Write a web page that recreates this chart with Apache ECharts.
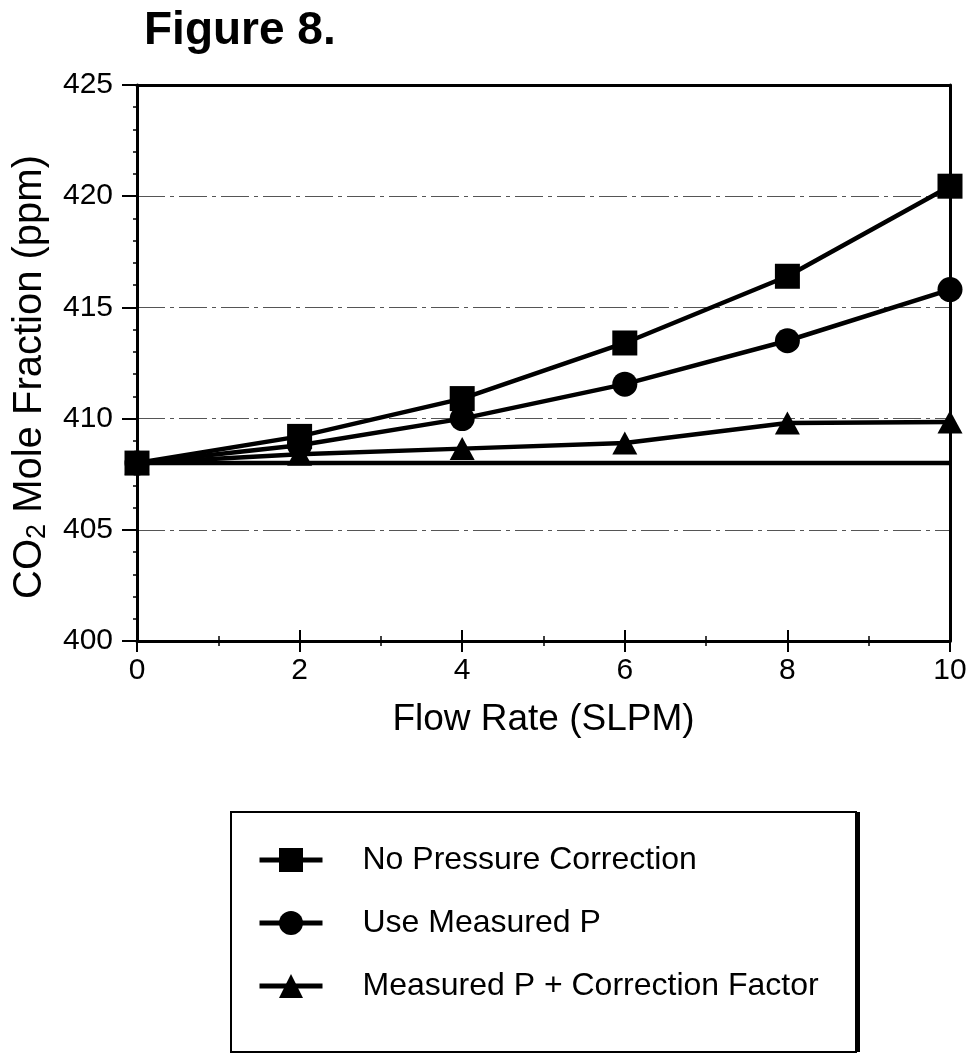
<!DOCTYPE html>
<html>
<head>
<meta charset="utf-8">
<script src="https://cdn.jsdelivr.net/npm/echarts@6/dist/echarts.min.js"></script>
<style>html,body{margin:0;padding:0;background:#fff}#c{width:972px;height:1055px}</style>
</head>
<body>
<div id="c"></div>
<script>
// Data
const flowRate = [0, 2, 4, 6, 8, 10];
const noPressureCorrection = [408.0, 409.2, 410.9, 413.4, 416.4, 420.45];
const useMeasuredP = [408.0, 408.8, 410.0, 411.55, 413.5, 415.8];
const measuredPCorrectionFactor = [408.0, 408.4, 408.65, 408.9, 409.8, 409.85];
const referenceLine = [408.0, 408.0, 408.0, 408.0, 408.0, 408.0];
const legendNames = ['No Pressure Correction', 'Use Measured P', 'Measured P + Correction Factor'];

const FONT = '"Liberation Sans", Arial, Helvetica, sans-serif';
const pairs = ys => flowRate.map((x, i) => [x, ys[i]]);

const chart = echarts.init(document.getElementById('c'), null, {renderer: 'canvas'});

function lineSeries(name, ys, symbol, z) {
  return {
    name: name, type: 'line', data: pairs(ys), z: z,
    symbol: symbol, symbolSize: symbol === 'triangle' ? [25, 23] : 25,
    showSymbol: symbol !== 'none',
    lineStyle: {color: '#000', width: 4.5},
    itemStyle: {color: '#000', borderWidth: 0},
    emphasis: {disabled: true},
    animation: false
  };
}

const xCommon = {type: 'value', min: 0, max: 10, interval: 2, gridIndex: 0};
const frameLine = {show: true, onZero: false, lineStyle: {color: '#000', width: 3}};

chart.setOption({
  backgroundColor: '#fff',
  animation: false,
  title: {
    text: 'Figure 8.', left: 139, top: 3,
    textStyle: {fontFamily: FONT, fontWeight: 'bold', fontSize: 46, color: '#000'}
  },
  grid: {left: 137, right: 22, top: 85, bottom: 414},
  graphic: [
    {type: 'rect', z: 0, silent: true,
     shape: {x: 231, y: 812, width: 625, height: 240},
     style: {fill: '#fff', stroke: '#000', lineWidth: 2}},
    {type: 'rect', z: 1, silent: true,
     shape: {x: 855, y: 812, width: 5, height: 240},
     style: {fill: '#000'}}
  ],
  legend: {
    orient: 'vertical', left: 230, top: 812,
    data: legendNames,
    itemWidth: 63, itemHeight: 30, itemGap: 29,
    padding: [31, 40, 50, 27],
    selectedMode: false,
    lineStyle: {width: 5, color: '#000'},
    itemStyle: {color: '#000'},
    textStyle: {fontFamily: FONT, fontSize: 32, color: '#000', lineHeight: 34, padding: [0, 0, 0, 35]}
  },
  xAxis: [
    Object.assign({}, xCommon, {
      name: 'Flow Rate (SLPM)', nameLocation: 'middle', nameGap: 60,
      nameTextStyle: {fontFamily: FONT, fontSize: 37, color: '#000'},
      axisLine: frameLine,
      axisTick: {show: true, inside: false, length: 11, lineStyle: {color: '#000', width: 2}},
      minorTick: {show: true, splitNumber: 2, length: 5, lineStyle: {color: '#000', width: 1.5}},
      axisLabel: {fontFamily: FONT, fontSize: 30, color: '#000', margin: 15},
      splitLine: {show: false}
    }),
    Object.assign({}, xCommon, {
      position: 'bottom',
      axisLine: {show: false},
      axisTick: {show: true, inside: true, length: 11, lineStyle: {color: '#000', width: 2}},
      minorTick: {show: true, splitNumber: 2, length: 5, lineStyle: {color: '#000', width: 1.5}},
      axisLabel: {show: false},
      splitLine: {show: false}
    }),
    Object.assign({}, xCommon, {
      position: 'top', z: 4,
      axisLine: frameLine,
      axisTick: {show: false}, axisLabel: {show: false}, splitLine: {show: false}
    })
  ],
  yAxis: [
    {
      type: 'value', min: 400, max: 425, interval: 5,
      name: '{a|CO}{s|2}{a| Mole Fraction (ppm)}',
      nameLocation: 'middle', nameGap: 86, nameRotate: 90,
      nameTextStyle: {
        fontFamily: FONT, color: '#000', padding: [0, 28, 0, 0],
        rich: {
          a: {fontFamily: FONT, fontSize: 40, color: '#000'},
          s: {fontFamily: FONT, fontSize: 27, color: '#000', padding: [16, 0, 0, 0]}
        }
      },
      axisLine: frameLine,
      axisTick: {show: true, inside: false, length: 15, lineStyle: {color: '#000', width: 2}},
      minorTick: {show: true, splitNumber: 5, length: 4, lineStyle: {color: '#000', width: 1.5}},
      axisLabel: {fontFamily: FONT, fontSize: 30, color: '#000', margin: 24},
      splitLine: {show: true, lineStyle: {color: '#555', width: 1.2, type: [28, 5, 4, 5]}}
    },
    {
      type: 'value', min: 400, max: 425, interval: 5, position: 'right', z: 4,
      axisLine: frameLine,
      axisTick: {show: false}, axisLabel: {show: false}, splitLine: {show: false}
    }
  ],
  series: [
    lineSeries('Reference', referenceLine, 'none', 2),
    lineSeries(legendNames[2], measuredPCorrectionFactor, 'triangle', 3),
    lineSeries(legendNames[1], useMeasuredP, 'circle', 4),
    lineSeries(legendNames[0], noPressureCorrection, 'rect', 5)
  ]
});
</script>
</body>
</html>
